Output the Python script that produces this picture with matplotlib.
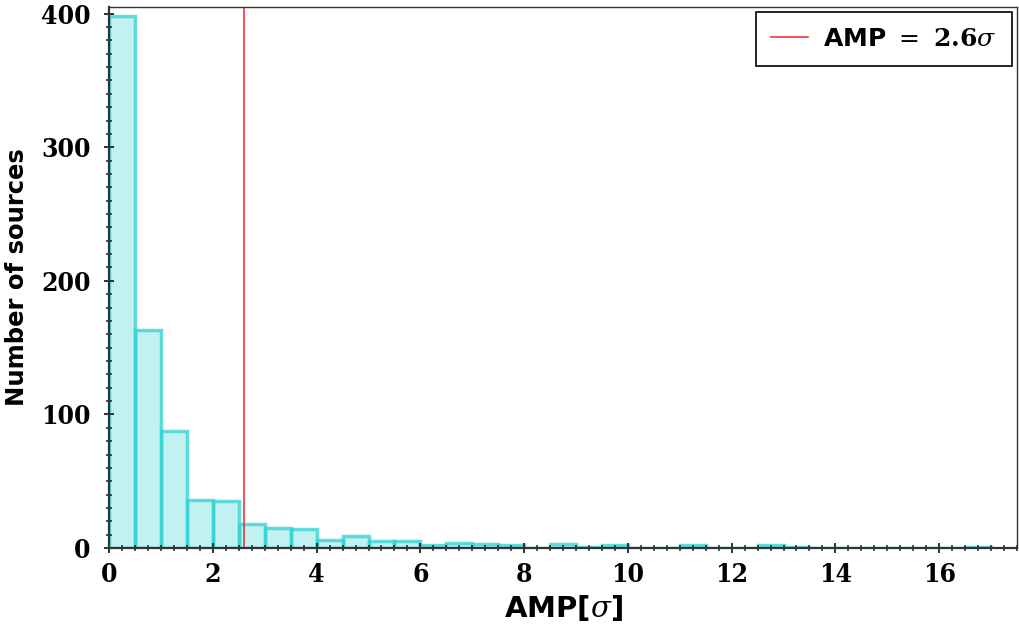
import numpy as np
import matplotlib
matplotlib.use("Agg")
import matplotlib.pyplot as plt
from matplotlib.ticker import MultipleLocator

plt.rcParams['mathtext.fontset'] = 'custom'
plt.rcParams['mathtext.rm'] = 'DejaVu Serif'
plt.rcParams['mathtext.it'] = 'DejaVu Serif:italic'
plt.rcParams['mathtext.bf'] = 'DejaVu Serif:bold'

# Histogram bins (width 0.5) and counts
bin_edges = [i * 0.5 for i in range(0, 35)]  # 0 .. 17.0
counts = [398, 163, 88, 36, 35, 18, 15, 14, 6, 9,
          5, 5, 2, 4, 3, 2, 0, 3, 1, 2,
          0, 0, 2, 0, 0, 2, 1, 0, 0, 0,
          0, 0, 0, 1]
threshold = 2.6
legend_label = r'AMP $=$ $\mathbf{2.6}\sigma$'
x_ticks = [0, 2, 4, 6, 8, 10, 12, 14, 16]
y_ticks = [0, 100, 200, 300, 400]

fig = plt.figure(figsize=(10.2, 6.3), dpi=100)
ax = fig.add_axes([0.107, 0.130, 0.890, 0.859])

lefts = np.array(bin_edges[:-1])
ax.bar(lefts, counts, width=0.5, align='edge',
       color=(0.0, 0.78, 0.78, 0.24), edgecolor=(0.2, 0.82, 0.82, 0.75),
       linewidth=2.5)

ax.axvline(threshold, color='#e8262a', linewidth=1.1, label=legend_label)

ax.set_xlim(0, 17.5)
ax.set_ylim(0, 405)
ax.set_xticks(x_ticks)
ax.set_yticks(y_ticks)
ax.xaxis.set_minor_locator(MultipleLocator(0.25))
ax.yaxis.set_minor_locator(MultipleLocator(10))
ax.tick_params(which='major', direction='inout', length=6.5, width=1.3, color='#222222')
ax.tick_params(which='minor', direction='inout', length=4.5, width=1.1, color='#222222')
for lab in ax.get_xticklabels() + ax.get_yticklabels():
    lab.set_fontfamily('DejaVu Serif')
    lab.set_fontweight('bold')
    lab.set_fontstretch('condensed')
    lab.set_fontsize(19)
ax.tick_params(axis='y', pad=10)
ax.tick_params(axis='x', pad=7)

for s in ['left', 'bottom']:
    ax.spines[s].set_linewidth(1.6)
    ax.spines[s].set_color('#333333')
for s in ['top', 'right']:
    ax.spines[s].set_linewidth(1.0)
    ax.spines[s].set_color('#333333')

ax.set_xlabel(r'AMP[$\sigma$]', fontsize=21, fontweight='bold', labelpad=4)
ax.set_ylabel('Number of sources', fontsize=17.5, fontweight='bold', labelpad=9)

leg = ax.legend(loc='upper right', prop={'size': 18, 'weight': 'bold'},
                fancybox=False, edgecolor='black', framealpha=1,
                borderaxespad=0.2, handlelength=1.5, handletextpad=0.6,
                borderpad=0.6)
leg.get_frame().set_linewidth(1.2)

fig.savefig('out.png', dpi=100)
